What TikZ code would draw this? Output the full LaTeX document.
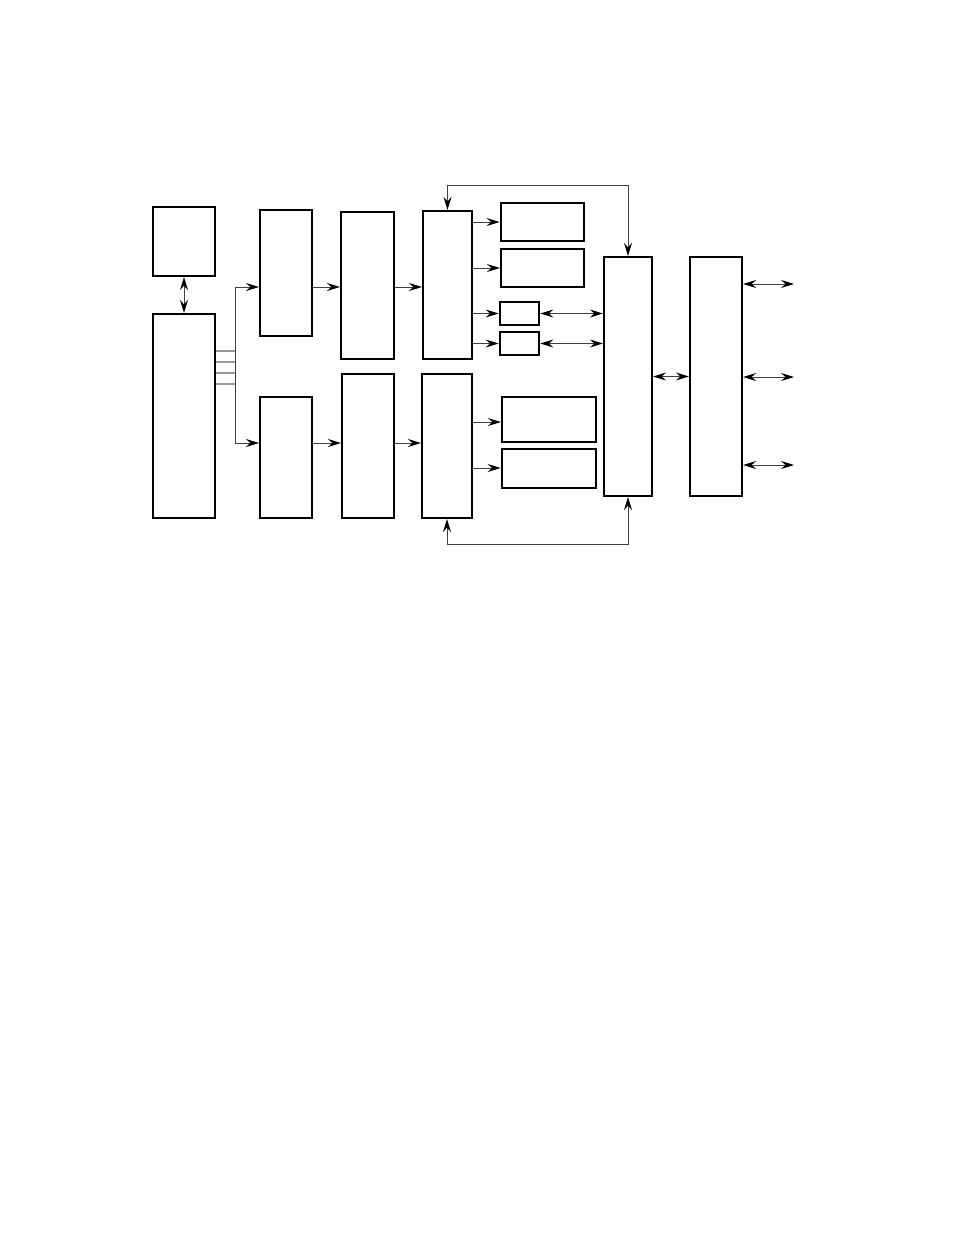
\documentclass[tikz,border=0pt]{standalone}
\usetikzlibrary{arrows.meta}
\begin{document}
\begin{tikzpicture}[x=1pt,y=-1pt,
  box/.style={draw=black,line width=2.2pt,fill=white,inner sep=0pt,minimum width=#1},
  conn/.style={draw=black!75,line width=0.9pt},
  stub/.style={draw=black!40,line width=1.1pt},
  arr/.tip={Stealth[length=13pt,width=8pt,inset=4.5pt,color=black]}]
\useasboundingbox (0,0) rectangle (954,1235);
% boxes
\node[box=62pt,minimum height=69pt] (A) at (184,241.5) {};
\node[box=62pt,minimum height=204pt] (B) at (184,416) {};
\node[box=52pt,minimum height=126pt] (C1) at (286,273) {};
\node[box=53pt,minimum height=147pt] (D1) at (367.5,285.5) {};
\node[box=49pt,minimum height=148pt] (E1) at (447.5,285) {};
\node[box=52pt,minimum height=121pt] (C2) at (286,457.5) {};
\node[box=52pt,minimum height=144pt] (D2) at (368,446) {};
\node[box=50pt,minimum height=144pt] (E2) at (447,446) {};
\node[box=83pt,minimum height=38pt,line width=2.8pt] (F1) at (542.5,222) {};
\node[box=83pt,minimum height=38pt] (F2) at (542.5,268) {};
\node[box=39pt,minimum height=23pt,line width=2.8pt] (G1) at (519.5,313.5) {};
\node[box=39pt,minimum height=23pt,line width=2.8pt] (G2) at (519.5,343.5) {};
\node[box=94pt,minimum height=45pt] (F3) at (549,419.5) {};
\node[box=94pt,minimum height=39pt,line width=2.8pt] (F4) at (549,468.5) {};
\node[box=48pt,minimum height=239pt] (H) at (628,376.5) {};
\node[box=52pt,minimum height=239pt] (I) at (716,376.5) {};
% A <-> B
\draw[conn,arr-arr] (A.south) -- (B.north);
% bus stubs
\coordinate (bt) at (235,287);
\coordinate (bb) at (235,443);
\foreach \yy in {351,362,373,384} {
  \draw[stub] (B.east |- 0,\yy) -- (bt |- 0,\yy);
}
\draw[conn] (bt) -- (bb);
\draw[conn,-arr] (bt) -- (C1.west |- bt);
\draw[conn,-arr] (C1.east |- bt) -- (D1.west |- bt);
\draw[conn,-arr] (D1.east |- bt) -- (E1.west |- bt);
\draw[conn,-arr] (bb) -- (C2.west |- bb);
\draw[conn,-arr] (C2.east |- bb) -- (D2.west |- bb);
\draw[conn,-arr] (D2.east |- bb) -- (E2.west |- bb);
% E1 outputs
\draw[conn,-arr] (E1.east |- F1.west) -- (F1.west);
\draw[conn,-arr] (E1.east |- F2.west) -- (F2.west);
\draw[conn,-arr] (E1.east |- G1.west) -- (G1.west);
\draw[conn,-arr] (E1.east |- G2.west) -- (G2.west);
% E2 outputs
\draw[conn,-arr] (E2.east |- 0,422) -- (F3.west |- 0,422);
\draw[conn,-arr] (E2.east |- 0,468) -- (F4.west |- 0,468);
% G <-> H
\draw[conn,arr-arr] (G1.east) -- (H.west |- G1.east);
\draw[conn,arr-arr] (G2.east) -- (H.west |- G2.east);
% H <-> I
\draw[conn,arr-arr] (H.east) -- (I.west);
% I outputs
\coordinate (o1) at (794,284);
\coordinate (o2) at (794,377);
\coordinate (o3) at (794,465);
\draw[conn,arr-arr] (I.east |- o1) -- (o1);
\draw[conn,arr-arr] (I.east |- o2) -- (o2);
\draw[conn,arr-arr] (I.east |- o3) -- (o3);
% loops
\coordinate (ty) at (0,185);
\coordinate (by) at (0,544);
\draw[conn,arr-arr] (E1.north) -- (E1.north |- ty) -- (H.north |- ty) -- (H.north);
\draw[conn,arr-arr] (E2.south) -- (E2.south |- by) -- (H.south |- by) -- (H.south);
\end{tikzpicture}
\end{document}
